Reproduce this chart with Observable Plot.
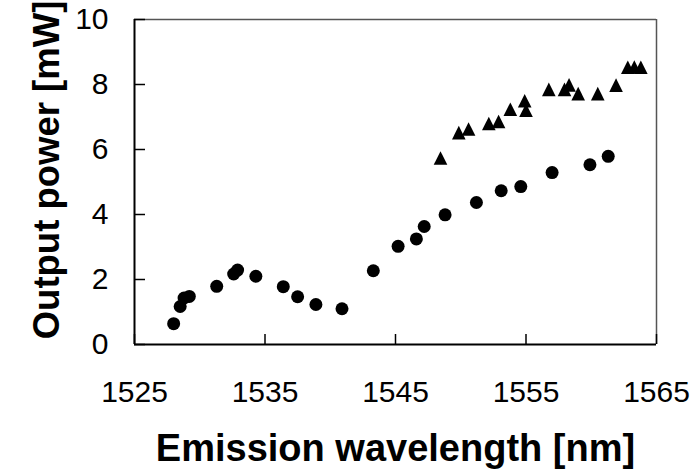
<!DOCTYPE html>
<html>
<head>
<meta charset="utf-8">
<script src="https://cdn.jsdelivr.net/npm/d3@7"></script>
<script src="https://cdn.jsdelivr.net/npm/@observablehq/plot@0.6"></script>
<style>
  html, body { margin: 0; padding: 0; background: #fff; }
  #chart svg { display: block; font-family: "Liberation Sans", Arial, sans-serif; }
</style>
</head>
<body>
<div id="chart"></div>
<script>
// Circle series (wavelength nm, output power mW)
const circleWl = [1528.0, 1528.5, 1528.8, 1529.2, 1531.3, 1532.6, 1532.9, 1534.3, 1536.4, 1537.5, 1538.9, 1540.9,
                  1543.3, 1545.2, 1546.6, 1547.2, 1548.8, 1551.2, 1553.1, 1554.6, 1557.0, 1559.9, 1561.3];
const circlePw = [0.64, 1.17, 1.43, 1.48, 1.79, 2.17, 2.29, 2.10, 1.78, 1.47, 1.23, 1.10,
                  2.27, 3.02, 3.25, 3.63, 3.99, 4.37, 4.73, 4.86, 5.29, 5.53, 5.79];
// Triangle series
const triWl = [1548.45, 1549.85, 1550.6, 1552.15, 1552.9, 1553.8, 1554.9, 1555.0, 1556.75, 1557.95, 1558.3,
               1559.0, 1560.5, 1561.9, 1562.8, 1563.3, 1563.8];
const triPw = [5.74, 6.52, 6.63, 6.80, 6.86, 7.24, 7.50, 7.21, 7.85, 7.85, 7.99,
               7.72, 7.72, 7.98, 8.53, 8.54, 8.53];
const xTicks = [1525, 1535, 1545, 1555, 1565];
const yTicks = [0, 2, 4, 6, 8, 10];
const xLabel = "Emission wavelength [nm]";
const yLabel = "Output power [mW]";

const circles = circleWl.map((x, i) => ({x, y: circlePw[i]}));
const tris = triWl.map((x, i) => ({x, y: triPw[i]}));

// Excel-like triangle: width == height, centred on bounding box
const excelTriangle = {
  draw(context, size) {
    const h = Math.sqrt(size / Math.PI);
    context.moveTo(0, -h);
    context.lineTo(h, h);
    context.lineTo(-h, h);
    context.closePath();
  }
};

const chart = Plot.plot({
  width: 698,
  height: 469,
  marginLeft: 134,
  marginRight: 42,
  marginTop: 19,
  marginBottom: 125,
  x: {domain: [1525, 1565]},
  y: {domain: [0, 10]},
  style: {fontFamily: '"Liberation Sans", Arial, sans-serif', background: "#fff", color: "#000"},
  marks: [
    // top and right frame (grey)
    Plot.ruleY([10], {stroke: "#555", strokeWidth: 1.5}),
    Plot.ruleX([1565], {stroke: "#555", strokeWidth: 1.5}),
    // left and bottom axes (black)
    Plot.ruleY([0], {stroke: "#000", strokeWidth: 2}),
    Plot.ruleX([1525], {stroke: "#000", strokeWidth: 2}),
    // inward ticks
    Plot.ruleY(yTicks, {y: d => d, x1: 1525, x2: 1525, insetRight: -11, stroke: "#000", strokeWidth: 1.5}),
    Plot.ruleX(xTicks, {x: d => d, y1: 0, y2: 0, insetBottom: 10, stroke: "#000", strokeWidth: 1.5}),
    // tick labels
    Plot.axisX({ticks: xTicks, tickSize: 0, tickPadding: 36, fontSize: 30, tickFormat: d => String(d), label: null}),
    Plot.axisY({ticks: yTicks, tickSize: 0, tickPadding: 26, fontSize: 30, tickFormat: d => String(d), label: null}),
    // axis titles
    Plot.text([xLabel], {text: d => d, frameAnchor: "bottom", lineAnchor: "bottom", dy: 116, fontSize: 38, fontWeight: "bold", fill: "#000"}),
    Plot.text([yLabel], {text: d => d, frameAnchor: "left", textAnchor: "middle", lineAnchor: "bottom", rotate: -90, dx: -76, dy: -12, fontSize: 36.5, fontWeight: "bold", fill: "#000"}),
    // data
    Plot.dot(circles, {x: "x", y: "y", r: 6.5, fill: "#000", stroke: "none"}),
    Plot.dot(tris, {x: "x", y: "y", r: 6.8, symbol: excelTriangle, fill: "#000", stroke: "none"})
  ]
});
document.getElementById("chart").appendChild(chart);
</script>
</body>
</html>
